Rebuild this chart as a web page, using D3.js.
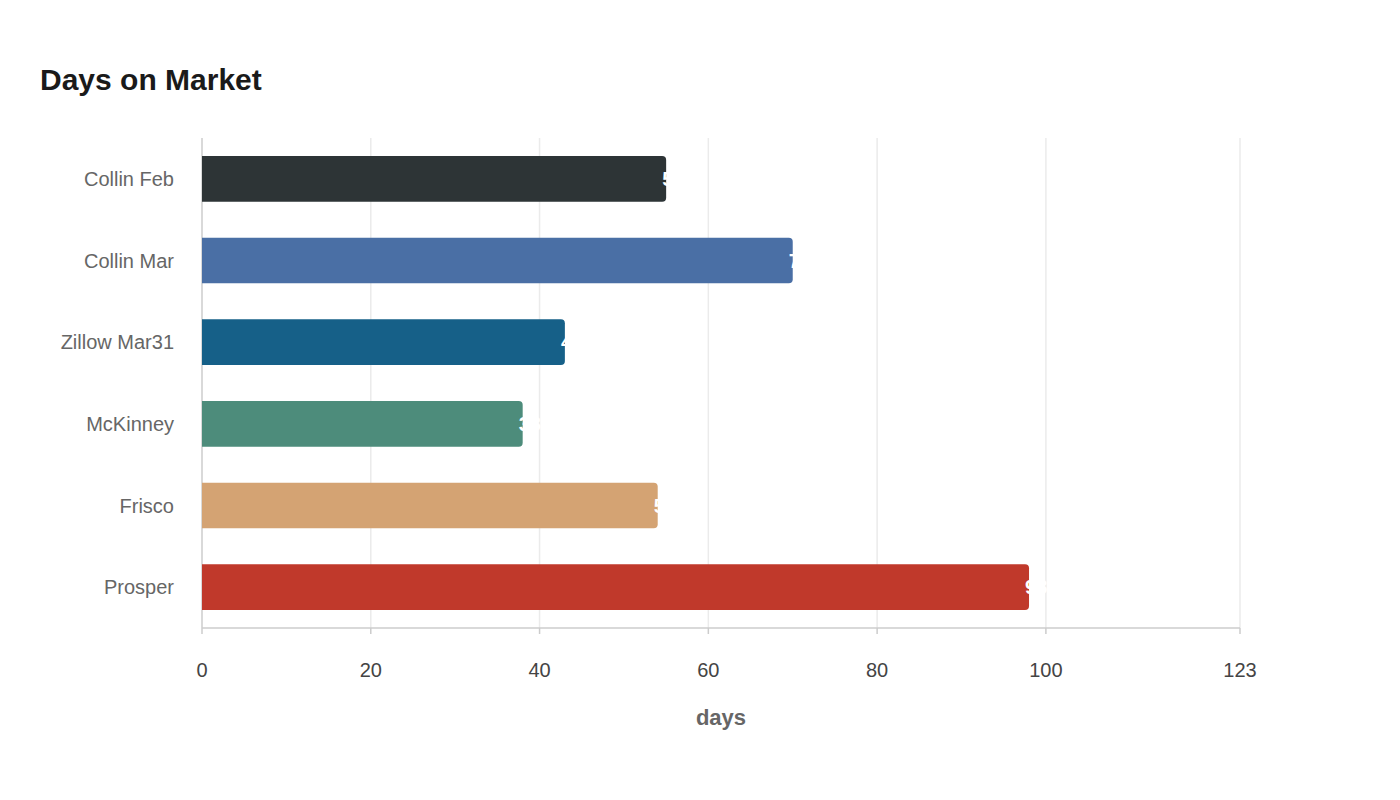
<!DOCTYPE html>
<html>
<head>
<meta charset="utf-8">
<script src="https://cdn.jsdelivr.net/npm/d3@7"></script>
<style>
  body { margin: 0; background: #fff; font-family: "Liberation Sans", Arial, sans-serif; }
</style>
</head>
<body>
<svg id="chart" width="1400" height="800"></svg>
<script>
const categories = ["Collin Feb", "Collin Mar", "Zillow Mar31", "McKinney", "Frisco", "Prosper"];
const values = [55, 70, 43, 38, 54, 98];
const colors = ["#2d3436", "#4a6fa5", "#166088", "#4d8c7b", "#d4a373", "#c0392b"];
const tickValues = [0, 20, 40, 60, 80, 100, 123];

const svg = d3.select("#chart");
const plotLeft = 202, plotRight = 1240, plotTop = 138, plotBottom = 628;

const x = d3.scaleLinear().domain([0, 123]).range([plotLeft, plotRight]);
const y = d3.scaleBand().domain(categories).range([plotTop, plotBottom]).paddingInner(0.44).paddingOuter(0.22);

// Title
svg.append("text")
  .attr("x", 40).attr("y", 90)
  .attr("font-size", 30).attr("font-weight", "bold").attr("fill", "#1a1a1a")
  .text("Days on Market");

// Vertical grid lines
svg.selectAll("line.grid")
  .data(tickValues.slice(1))
  .enter().append("line")
  .attr("x1", (d) => x(d)).attr("x2", (d) => x(d))
  .attr("y1", plotTop).attr("y2", plotBottom)
  .attr("stroke", "#ebebeb").attr("stroke-width", 1.5);

// Axis lines
svg.append("line").attr("x1", plotLeft).attr("x2", plotLeft).attr("y1", plotTop).attr("y2", plotBottom)
  .attr("stroke", "#ccc").attr("stroke-width", 1.5);
svg.append("line").attr("x1", plotLeft).attr("x2", plotRight).attr("y1", plotBottom).attr("y2", plotBottom)
  .attr("stroke", "#ccc").attr("stroke-width", 1.5);
svg.selectAll("line.tick")
  .data(tickValues)
  .enter().append("line")
  .attr("x1", (d) => x(d)).attr("x2", (d) => x(d))
  .attr("y1", plotBottom).attr("y2", plotBottom + 6)
  .attr("stroke", "#ccc").attr("stroke-width", 1.5);

// Bars with rounded right end
const r = 4;
svg.selectAll("path.bar")
  .data(categories)
  .enter().append("path")
  .attr("fill", (d, i) => colors[i])
  .attr("d", (d, i) => {
    const x0 = x(0), x1 = x(values[i]), y0 = y(d), h = y.bandwidth();
    return `M${x0},${y0}H${x1 - r}Q${x1},${y0} ${x1},${y0 + r}V${y0 + h - r}Q${x1},${y0 + h} ${x1 - r},${y0 + h}H${x0}Z`;
  });

// Value labels
svg.selectAll("text.val")
  .data(categories)
  .enter().append("text")
  .attr("x", (d, i) => x(values[i]) - 4)
  .attr("y", (d) => y(d) + y.bandwidth() / 2)
  .attr("dy", "0.35em")
  .attr("font-size", 20).attr("font-weight", "bold").attr("fill", "#fff")
  .text((d, i) => values[i]);

// Category labels
svg.selectAll("text.cat")
  .data(categories)
  .enter().append("text")
  .attr("x", plotLeft - 28)
  .attr("y", (d) => y(d) + y.bandwidth() / 2)
  .attr("dy", "0.35em")
  .attr("text-anchor", "end")
  .attr("font-size", 20).attr("fill", "#666")
  .text((d) => d);

// Tick labels
svg.selectAll("text.tick")
  .data(tickValues)
  .enter().append("text")
  .attr("x", (d) => x(d)).attr("y", 677)
  .attr("text-anchor", "middle")
  .attr("font-size", 20).attr("fill", "#444")
  .text((d) => d);

// Axis title
svg.append("text")
  .attr("x", (plotLeft + plotRight) / 2).attr("y", 725)
  .attr("text-anchor", "middle")
  .attr("font-size", 22).attr("font-weight", "bold").attr("fill", "#666")
  .text("days");
</script>
</body>
</html>
